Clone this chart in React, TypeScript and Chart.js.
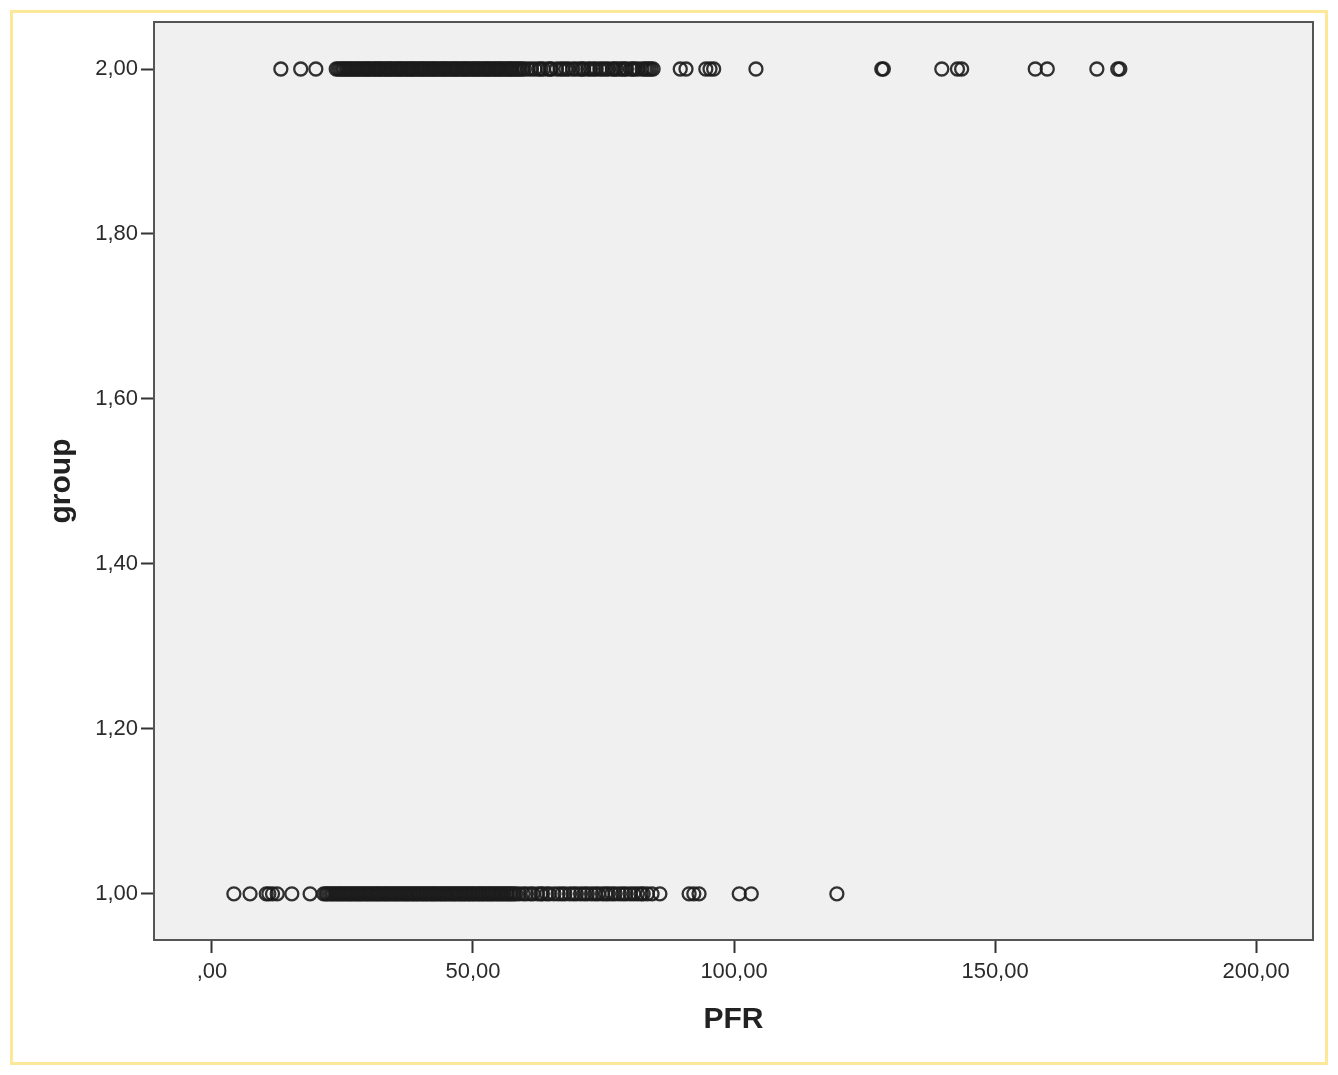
import React, { useEffect, useRef } from "react";
import { Chart, registerables } from "chart.js";

Chart.register(...registerables);

// PFR values, group 1 (bottom row)
const group1PFR = [
  4.2, 7.3, 10.4, 10.9, 11.6, 12.5, 15.3, 18.8,
  21.4, 21.8, 22.1, 22.5, 22.9, 23.2, 23.6, 24.0, 24.3, 24.7, 25.0, 25.4, 25.8, 26.1, 26.5, 26.8,
  27.2, 27.6, 27.9, 28.3, 28.6, 29.0, 29.4, 29.7, 30.1, 30.4, 30.8, 31.2, 31.5, 31.9, 32.2, 32.6,
  33.0, 33.3, 33.7, 34.0, 34.4, 34.8, 35.1, 35.5, 35.8, 36.2, 36.6, 36.9, 37.3, 37.6, 38.0, 38.4,
  38.7, 39.1, 39.4, 39.8, 40.2, 40.5, 40.9, 41.2, 41.6, 42.0, 42.3, 42.7, 43.0, 43.4, 43.8, 44.1,
  44.5, 44.8, 45.2, 45.6, 45.9, 46.3, 46.6, 47.0, 47.4, 47.7, 48.1, 48.4, 48.8, 49.2, 49.5, 49.9,
  50.2, 50.6, 51.0, 51.3, 51.7, 52.0, 52.4, 52.8, 53.1, 53.5, 53.8, 54.2, 54.6, 54.9, 55.3, 55.6,
  56.0, 56.4, 56.7, 57.1, 57.4, 57.8, 58.2, 58.8,
  59.6, 60.2, 61.0, 61.5, 62.4, 63.0, 63.3, 64.1, 64.6, 65.5, 66.3, 67.0, 67.6, 68.5, 69.2, 69.8,
  70.6, 71.3, 71.9, 72.7, 73.4, 74.0, 74.8, 75.4, 75.9, 76.6, 77.2, 78.0, 78.7, 79.3, 80.1, 80.8,
  81.5, 82.2, 82.6, 83.4, 84.3, 85.8,
  91.4, 92.3, 93.3, 101.0, 103.3, 119.7,
];

// PFR values, group 2 (top row)
const group2PFR = [
  13.2, 17.0, 19.9,
  23.8, 24.2, 24.6, 25.0, 25.3, 25.7, 26.0, 26.4, 26.7, 27.1, 27.5, 27.8, 28.1, 28.5, 28.9, 29.2,
  29.6, 29.9, 30.2, 30.6, 31.0, 31.3, 31.7, 32.0, 32.3, 32.7, 33.1, 33.4, 33.8, 34.1, 34.4, 34.8,
  35.2, 35.5, 35.9, 36.2, 36.5, 36.9, 37.3, 37.6, 38.0, 38.3, 38.6, 39.0, 39.4, 39.7, 40.1, 40.4,
  40.7, 41.1, 41.5, 41.8, 42.2, 42.5, 42.8, 43.2, 43.6, 43.9, 44.3, 44.6, 44.9, 45.3, 45.7, 46.0,
  46.4, 46.7, 47.0, 47.4, 47.8, 48.1, 48.5, 48.8, 49.1, 49.5, 49.9, 50.2, 50.6, 50.9, 51.2, 51.6,
  52.0, 52.3, 52.7, 53.0, 53.3, 53.7, 54.1, 54.4, 54.8, 55.1, 55.4, 55.8, 56.2, 56.5, 56.9, 57.2,
  57.5, 57.9, 58.3, 58.6, 59.0, 59.4, 59.8,
  60.5, 61.2, 61.9, 62.6, 63.0, 63.5, 64.3, 64.8, 65.0, 66.0, 66.7, 67.2, 67.8, 68.3, 69.1, 69.7,
  70.4, 70.9, 71.2, 72.0, 72.5, 73.1, 73.6, 74.3, 74.8, 75.4, 75.9, 76.7, 77.1, 77.5, 78.1, 78.6,
  79.0, 79.4, 80.2, 80.6, 81.0, 81.6, 82.4, 82.9, 83.3, 83.7, 84.1, 84.5,
  89.7, 90.8, 94.6, 95.4, 96.1, 104.2, 128.3, 128.6, 139.8, 142.8, 143.6, 157.7, 160.0, 169.5,
  173.5, 173.9,
];

const groupValues = [1, 2];

const xTickValues = [0, 50, 100, 150, 200];
const xTickLabels = [",00", "50,00", "100,00", "150,00", "200,00"];
const yTickValues = [1, 1.2, 1.4, 1.6, 1.8, 2];
const yTickLabels = ["1,00", "1,20", "1,40", "1,60", "1,80", "2,00"];

const xTitle = "PFR";
const yTitle = "group";

const X_MIN = -11.1;
const X_MAX = 210.9;
const Y_MIN = 0.944;
const Y_MAX = 2.057;

const FONT = "'Liberation Sans', Arial, sans-serif";
const INK = "#2b2b2b";

const plotFrame = {
  id: "plotFrame",
  beforeDraw(chart: any) {
    const { ctx, chartArea } = chart;
    ctx.save();
    ctx.fillStyle = "#f0f0f0";
    ctx.fillRect(chartArea.left, chartArea.top, chartArea.right - chartArea.left, chartArea.bottom - chartArea.top);
    ctx.restore();
  },
  afterDraw(chart: any) {
    const { ctx, chartArea } = chart;
    ctx.save();
    ctx.strokeStyle = "#555";
    ctx.lineWidth = 2;
    ctx.strokeRect(chartArea.left, chartArea.top, chartArea.right - chartArea.left, chartArea.bottom - chartArea.top);
    ctx.restore();
  },
};

function labelFor(values: number[], labels: string[], v: number) {
  const i = values.findIndex((t) => Math.abs(t - v) < 1e-6);
  return i >= 0 ? labels[i] : "";
}

export default function App() {
  const ref = useRef<HTMLCanvasElement | null>(null);

  useEffect(() => {
    if (!ref.current) return;
    const pointStyle = {
      pointStyle: "circle" as const,
      pointRadius: 6.5,
      pointBorderWidth: 2.3,
      pointBorderColor: "rgba(28,28,28,0.9)",
      pointBackgroundColor: "rgba(0,0,0,0)",
      showLine: false,
    };
    const chart = new Chart(ref.current, {
      type: "scatter",
      data: {
        datasets: [
          { label: "group 1", data: group1PFR.map((v) => ({ x: v, y: groupValues[0] })), ...pointStyle },
          { label: "group 2", data: group2PFR.map((v) => ({ x: v, y: groupValues[1] })), ...pointStyle },
        ],
      },
      options: {
        animation: false,
        responsive: false,
        maintainAspectRatio: false,
        devicePixelRatio: 1,
        layout: { padding: { left: 0, top: 22, right: 25, bottom: 0 } },
        plugins: { legend: { display: false }, tooltip: { enabled: false } },
        scales: {
          x: {
            type: "linear",
            min: X_MIN,
            max: X_MAX,
            afterBuildTicks: (s: any) => {
              s.ticks = xTickValues.map((v) => ({ value: v }));
            },
            afterFit: (s: any) => {
              s.height = 135;
            },
            ticks: {
              callback: (v: any) => labelFor(xTickValues, xTickLabels, Number(v)),
              font: { family: FONT, size: 22 },
              color: INK,
              padding: 6,
              maxRotation: 0,
              autoSkip: false,
            },
            grid: { drawOnChartArea: false, tickLength: 13, color: "#333", tickWidth: 2 },
            border: { display: true, color: "#333", width: 2 },
            title: {
              display: true,
              text: xTitle,
              font: { family: FONT, size: 30, weight: "bold" },
              color: "#222",
              padding: { top: 0, bottom: 37 },
            },
          },
          y: {
            type: "linear",
            min: Y_MIN,
            max: Y_MAX,
            afterBuildTicks: (s: any) => {
              s.ticks = yTickValues.map((v) => ({ value: v }));
            },
            afterFit: (s: any) => {
              s.width = 154;
            },
            ticks: {
              callback: (v: any) => labelFor(yTickValues, yTickLabels, Number(v)),
              font: { family: FONT, size: 22 },
              color: INK,
              padding: 3,
              autoSkip: false,
            },
            grid: { drawOnChartArea: false, tickLength: 13, color: "#333", tickWidth: 2 },
            border: { display: true, color: "#333", width: 2 },
            title: {
              display: true,
              text: yTitle,
              font: { family: FONT, size: 30, weight: "bold" },
              color: "#222",
              padding: { top: 44, bottom: 0 },
            },
          },
        },
      },
      plugins: [plotFrame],
    });
    return () => chart.destroy();
  }, []);

  return (
    <div style={{ position: "absolute", left: 0, top: 0, width: 1338, height: 1075, background: "#fff" }}>
      <div
        style={{
          position: "absolute",
          left: 10,
          top: 10,
          width: 1312,
          height: 1049,
          border: "3px solid #fde89a",
        }}
      />
      <canvas ref={ref} width={1338} height={1075} style={{ position: "absolute", left: 0, top: 0 }} />
    </div>
  );
}
